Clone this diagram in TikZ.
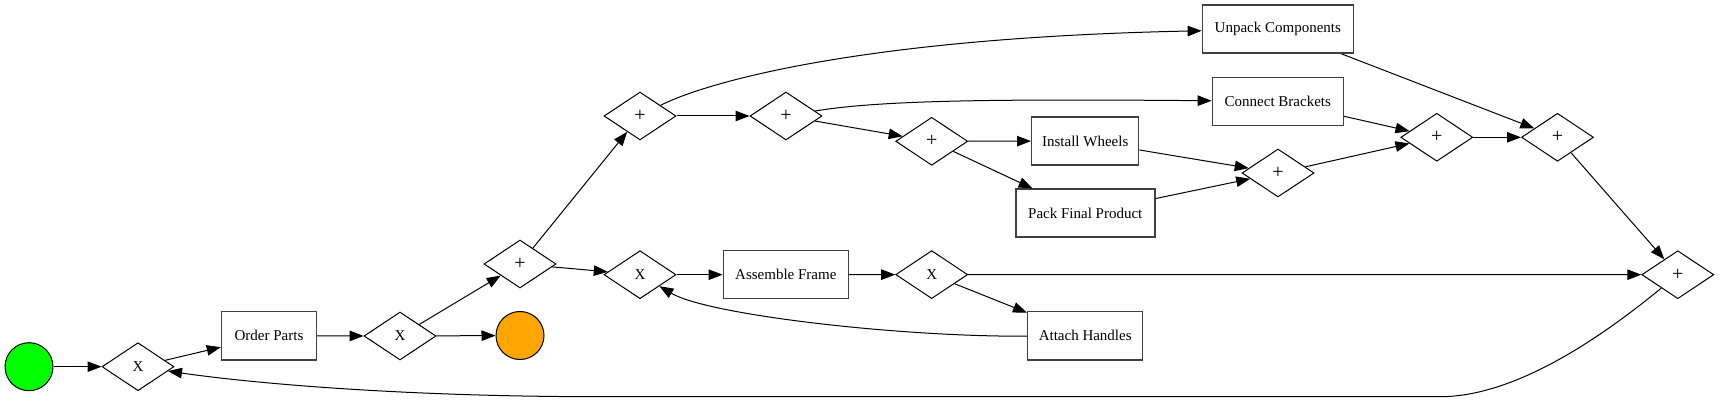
\documentclass[tikz,border=0pt]{standalone}
\usepackage{fontspec}
\setmainfont{Liberation Serif}
\usetikzlibrary{shapes.geometric,arrows.meta}
\definecolor{startgreen}{RGB}{0,255,0}
\definecolor{endorange}{RGB}{255,165,0}
\newcommand\gplus{{\fontsize{20}{20}\selectfont +}}
\begin{document}
\begin{tikzpicture}[x=1pt,y=-1pt,
  lbl/.style={font=\fontsize{15}{18}\selectfont},
  task/.style={lbl, rectangle, draw=black!75, line width=1.4pt, fill=white, minimum height=48pt, inner sep=0pt},
  gate/.style={lbl, diamond, draw, line width=1pt, fill=white, minimum width=72pt, minimum height=48pt, inner sep=0pt},
  evt/.style={circle, draw, line width=1pt, minimum size=48pt, inner sep=0pt},
  flow/.style={line width=1pt, -{Triangle[length=14pt,width=10.5pt]}},
]
\useasboundingbox (0,0) rectangle (1719,403);

\node[evt, fill=startgreen] (start) at (29,366.7) {};
\node[gate] (x1) at (138,366.7) {X};
\node[task, minimum width=95pt] (order) at (269,335.8) {Order Parts};
\node[gate] (x2) at (400,336) {X};
\node[evt, fill=endorange] (end) at (520,335.5) {};
\node[gate] (p1) at (520,264) {\gplus};
\node[gate] (p2) at (640,116) {\gplus};
\node[gate] (x3) at (640,274.7) {X};
\node[task, minimum width=125pt] (assemble) at (785.8,274.7) {Assemble Frame};
\node[gate] (p3) at (786,116) {\gplus};
\node[gate] (x4) at (931.7,274.6) {X};
\node[gate] (p4) at (931.7,141.3) {\gplus};
\node[task, minimum width=115pt] (attach) at (1085.2,335.8) {Attach Handles};
\node[task, minimum width=107pt] (install) at (1085.2,141) {Install Wheels};
\node[task, minimum width=139pt] (pack) at (1085.3,213.2) {Pack Final Product};
\node[task, minimum width=151pt] (unpack) at (1277.8,29.2) {Unpack Components};
\node[task, minimum width=131pt] (connect) at (1277.8,101.3) {Connect Brackets};
\node[gate] (p5) at (1278,173) {\gplus};
\node[gate] (p6) at (1436.8,137.3) {\gplus};
\node[gate] (p7) at (1557.5,137.3) {\gplus};
\node[gate] (p8) at (1677.8,274.7) {\gplus};

\coordinate (loopA) at (1440,396.7);
\coordinate (loopB) at (600,396.7);

\draw[flow] (start) -- (x1);
\draw[flow] (x1) -- (order);
\draw[flow] (order) -- (x2);
\draw[flow] (x2) -- (end);
\draw[flow] (x2) -- (p1);
\draw[flow] (p1) -- (p2);
\draw[flow] (p1) -- (x3);
\draw[flow] (x3) -- (assemble);
\draw[flow] (assemble) -- (x4);
\draw[flow] (x4) -- (attach);
\draw[flow] (x4) -- (p8);
\draw[flow] (attach) .. controls (900,337) and (708,315) .. (x3);
\draw[flow] (p2) .. controls (700,85) and (850,38) .. (unpack);
\draw[flow] (p2) -- (p3);
\draw[flow] (p3) .. controls (880,100) and (1000,99) .. (connect);
\draw[flow] (p3) -- (p4);
\draw[flow] (p4) -- (install);
\draw[flow] (p4) -- (pack);
\draw[flow] (install) -- (p5);
\draw[flow] (pack) -- (p5);
\draw[flow] (p5) -- (p6);
\draw[flow] (connect) -- (p6);
\draw[flow] (p6) -- (p7);
\draw[flow] (unpack) -- (p7);
\draw[flow] (p7) -- (p8);
\draw[flow] (p8) .. controls (1610,330) and (1520,396.7) .. (loopA) -- (loopB) .. controls (400,396.7) and (250,383) .. (x1);
\end{tikzpicture}
\end{document}
